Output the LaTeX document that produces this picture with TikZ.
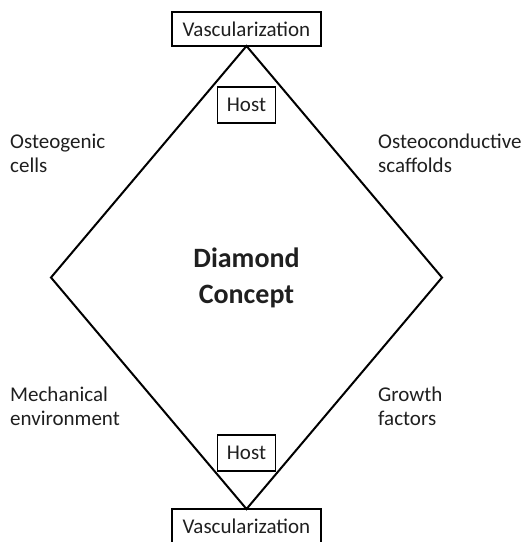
\documentclass[tikz,border=0pt]{standalone}
\usepackage{fontspec}
\setmainfont{Carlito}
\usetikzlibrary{shapes.geometric,positioning}

\tikzset{
  boxnode/.style={draw, line width=1.4pt, inner sep=0pt, outer sep=0pt,
    text=black!88, font=\fontsize{21}{24}\selectfont},
  sidetext/.style={anchor=base west, align=left, inner sep=0pt,
    text=black!88, font=\fontsize{21}{24}\selectfont}
}

\begin{document}
\begin{tikzpicture}[x=1pt, y=-1pt]
  \useasboundingbox (0,0) rectangle (526,542);

  % The diamond itself
  \node[diamond, draw, line width=2pt, inner sep=0pt, outer sep=0pt,
        minimum width=391pt, minimum height=463pt, align=center, text=black!88,
        font=\bfseries\fontsize{28}{36}\selectfont] (dia) at (246.5,277.5)
        {Diamond\\Concept};

  % Boxes on the two tips
  \node[boxnode, anchor=south, minimum width=149pt, minimum height=34pt] (vasctop) at (dia.north) {Vascularization};
  \node[boxnode, anchor=north, minimum width=149pt, minimum height=34pt] (vascbot) at (dia.south) {Vascularization};
  \node[boxnode, below=41pt of vasctop, minimum width=58pt, minimum height=36pt] (hosttop) {Host};
  \node[boxnode, above=38pt of vascbot, minimum width=58pt, minimum height=36pt] (hostbot) {Host};

  % Side labels (base = last line)
  \node[sidetext] (osteocells) at (10,172) {Osteogenic\\cells};
  \node[sidetext] (scaffolds) at (378,172) {Osteoconductive\\scaffolds};
  \node[sidetext] (mechenv) at (10,425) {Mechanical\\environment};
  \node[sidetext] (growth) at (378,425) {Growth\\factors};
\end{tikzpicture}
\end{document}
